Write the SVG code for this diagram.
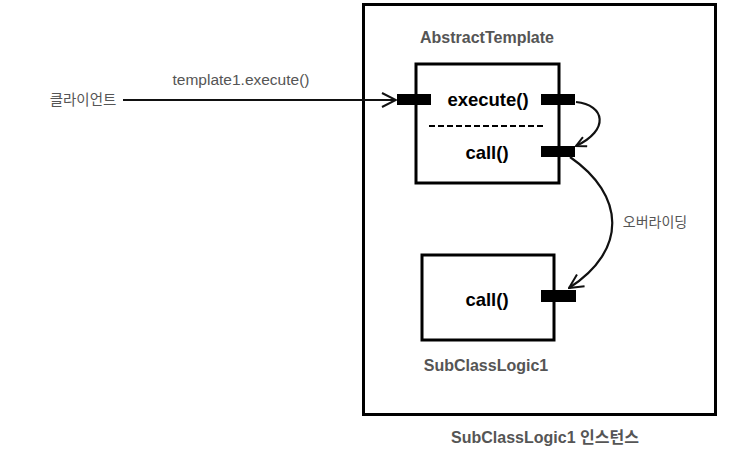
<svg xmlns="http://www.w3.org/2000/svg" width="743" height="449" viewBox="0 0 743 449">
<defs>
<style>
.box{fill:#fff;stroke:#000;stroke-width:3}
.port{fill:#000}
.lbl{font-family:"Liberation Sans","Noto Sans CJK KR",sans-serif;fill:#555}
.b{font-weight:bold}
.m{font-family:"Liberation Sans",sans-serif;font-weight:bold;font-size:18.5px;fill:#000}
.con{fill:none;stroke:#111;stroke-width:2.2}
</style>
<marker id="ah" viewBox="0 0 12 12" refX="11" refY="6" markerWidth="12" markerHeight="12" markerUnits="userSpaceOnUse" orient="auto">
<path d="M1,1 L11,6 L1,11" fill="none" stroke="#111" stroke-width="2"/>
</marker>
<marker id="ah2" viewBox="0 0 16 16" refX="15" refY="8" markerWidth="16" markerHeight="16" markerUnits="userSpaceOnUse" orient="auto">
<path d="M1,1 L15,8 L1,15" fill="none" stroke="#111" stroke-width="2"/>
</marker>
</defs>
<rect width="743" height="449" fill="#fff"/>
<g id="instance">
<rect class="box" x="363.5" y="4.5" width="352" height="410" stroke-width="3.5"/>
<text class="lbl b" x="545" y="443" font-size="16" text-anchor="middle">SubClassLogic1 인스턴스</text>
</g>
<g id="abstractTemplate">
<text class="lbl b" x="487" y="43" font-size="16" text-anchor="middle">AbstractTemplate</text>
<rect class="box" x="416" y="64" width="143" height="119"/>
<line x1="429" y1="126" x2="546" y2="126" stroke="#000" stroke-width="2" stroke-dasharray="6,3"/>
<text class="m" x="488" y="106" text-anchor="middle">execute()</text>
<text class="m" x="487" y="159" text-anchor="middle">call()</text>
<rect class="port" x="397" y="94" width="34" height="11"/>
<rect class="port" x="541" y="94" width="34" height="11"/>
<rect class="port" x="541" y="146" width="34" height="11"/>
</g>
<g id="subClassLogic1">
<rect class="box" x="422" y="255" width="132" height="85"/>
<text class="m" x="487" y="306" text-anchor="middle">call()</text>
<rect class="port" x="541" y="290" width="35" height="12"/>
<text class="lbl b" x="486" y="371" font-size="16" text-anchor="middle">SubClassLogic1</text>
</g>
<g id="client">
<text class="lbl" x="83" y="105" font-size="14.5" text-anchor="middle">클라이언트</text>
</g>
<g id="connectors">
<line class="con" x1="123" y1="100" x2="396" y2="100" marker-end="url(#ah2)"/>
<text class="lbl" x="241" y="85" font-size="15.5" text-anchor="middle">template1.execute()</text>
<path class="con" d="M576,102 C605,105 610,130 576,146" marker-end="url(#ah)"/>
<path class="con" d="M570,157 C625,195 628,250 569,288" marker-end="url(#ah2)"/>
<text class="lbl" x="655" y="227" font-size="14" text-anchor="middle">오버라이딩</text>
</g>
</svg>
